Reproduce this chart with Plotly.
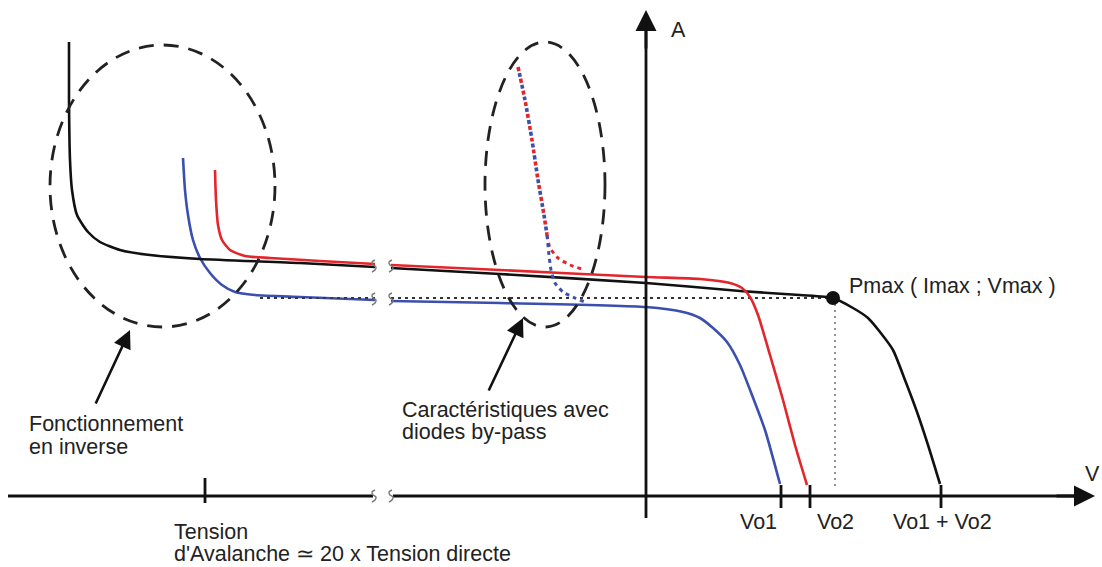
import plotly.graph_objects as go

# Data space: origin at the crossing of the V and A axes, 1 unit ~ 1 reference pixel
# ---------------- curves ----------------
black_left_x = [-577, -577, -576, -574, -569, -558, -546, -526, -496, -446, -346, -271]
black_left_y = [454, 396, 336, 306, 281, 264, 254, 246, 241, 237, 233, 229]
black_right_x = [-255, -146, 0, 94, 154, 187, 207, 222, 234, 247, 259, 271, 282, 294]
black_right_y = [228, 222, 213, 205, 201, 198, 188, 178, 164, 146, 116, 84, 51, 12]

red_left_x = [-431, -430, -428, -424, -416, -401, -376, -326, -271]
red_left_y = [326, 296, 271, 256, 246, 240, 238, 235, 232]
red_right_x = [-255, -146, 0, 54, 84, 96, 104, 112, 124, 137, 149, 161]
red_right_y = [231, 226, 219, 217, 213, 208, 199, 181, 141, 96, 51, 11]

blue_left_x = [-463, -461, -458, -453, -446, -436, -424, -411, -391, -346, -271]
blue_left_y = [338, 306, 281, 256, 238, 223, 211, 204, 201, 199, 196]
blue_right_x = [-255, -146, 0, 37, 54, 67, 81, 94, 106, 119, 134]
blue_right_y = [195, 193, 189, 184, 178, 168, 154, 131, 101, 66, 12]

# by-pass diode characteristics (dotted)
bypass_common_x = [-128, -121, -114, -108, -102, -99]
bypass_common_y = [429, 396, 356, 316, 281, 261]
bypass_red_x = [-99, -96, -88, -76, -61]
bypass_red_y = [261, 248, 238, 231, 226]
bypass_blue_x = [-99, -97, -95, -91, -83, -71, -61]
bypass_blue_y = [261, 241, 226, 213, 204, 198, 194]

# Pmax
pmax_x = [187]
pmax_y = [198]
imax_line_x = [[-386, -271], [-255, 187]]
vmax_line_y = [198, 6]

# axes
haxis_segments = [[-638, -273], [-253, 440]]
haxis_tip = 449
vaxis_bottom = -22
vaxis_tip = 486
break_x = [-272, -255]
break_y = [230, 197, 0]

tick_x = [-441, 135, 164, 295]
tick_y0 = [-7, -12, -12, -12]
tick_y1 = [18, 11, 11, 11]
tick_labels = ["Vo1", "Vo2", "Vo1 + Vo2"]
tick_label_x = [112, 189, 296]
tick_label_y = -26

# dashed ellipses (x0, x1, y0, y1)
ellipse_boxes = [(-596, -371, 169, 451), (-161, -41, 169, 454)]

# pointer arrows (tail -> head)
pointer_tails = [(-551, 91), (-158, 104)]
pointer_heads = [(-516, 166), (-123, 178)]

texts = [
    ("Fonctionnement", -619, 72),
    ("en inverse", -619, 49),
    ("Caractéristiques avec", -246, 86),
    ("diodes by-pass", -246, 64),
    ("Tension", -474, -36),
    ("d'Avalanche \u2243 20 x Tension directe", -474, -58),
    ("Pmax ( Imax ; Vmax )", 201, 210),
]

RED = "#e3262b"
BLUE = "#3b4fae"
BLACK = "#111111"
FONT = "Liberation Sans, Arial, sans-serif"
FSIZE = 21.5

fig = go.Figure()


def line(x, y, color, width=2.6, dash="solid", shape="spline"):
    fig.add_trace(go.Scatter(x=x, y=y, mode="lines",
                             line=dict(color=color, width=width, dash=dash, shape=shape,
                                       smoothing=0.6),
                             hoverinfo="skip", showlegend=False))


# dotted Imax / Vmax guides
for seg in imax_line_x:
    line(seg, [pmax_y[0], pmax_y[0]], "#333333", width=1.8, dash="3px,4px", shape="linear")
line([pmax_x[0] + 2, pmax_x[0] + 2], vmax_line_y, "#888888", width=1.8, dash="2px,4px", shape="linear")

# curves
line(blue_left_x, blue_left_y, BLUE)
line(blue_right_x, blue_right_y, BLUE)
line(black_left_x, black_left_y, BLACK)
line(black_right_x, black_right_y, BLACK)
line(red_left_x, red_left_y, RED)
line(red_right_x, red_right_y, RED)

# dotted black overlay on the blue plateau left of break
line(imax_line_x[0], [pmax_y[0], pmax_y[0]], "#333333", width=1.6, dash="3px,4px", shape="linear")

# by-pass dotted: red and blue squares interleaved
line(bypass_common_x, bypass_common_y, RED, width=3.6, dash="4px,8px")
line(bypass_common_x, bypass_common_y, BLUE, width=3.6, dash="0px,6px,4px,2px")
line(bypass_red_x, bypass_red_y, RED, width=3, dash="4px,4px")
line(bypass_blue_x, bypass_blue_y, BLUE, width=3, dash="4px,4px")

# axes
for seg in haxis_segments:
    line(seg, [0, 0], BLACK, width=2.8, shape="linear")
line([0, 0], [vaxis_bottom, vaxis_tip - 20], BLACK, width=2.8, shape="linear")

# ticks
for tx, a, b in zip(tick_x, tick_y0, tick_y1):
    line([tx, tx], [a, b], BLACK, width=2.8, shape="linear")

# break squiggles
sq_dx = [-2, 1, 2, -1, -2, 1]
sq_dy = [-6, -4, -1, 1, 4, 6]
for bx in break_x:
    for by in break_y:
        fig.add_trace(go.Scatter(x=[bx + d for d in sq_dx], y=[by + d for d in sq_dy], mode="lines",
                                 line=dict(color="#777777", width=1.4, shape="spline"),
                                 hoverinfo="skip", showlegend=False))

# Pmax marker
fig.add_trace(go.Scatter(x=pmax_x, y=pmax_y, mode="markers",
                         marker=dict(color=BLACK, size=14), hoverinfo="skip", showlegend=False))

# ellipses
shapes = []
for x0, x1, y0, y1 in ellipse_boxes:
    shapes.append(dict(type="circle", xref="x", yref="y", x0=x0, x1=x1, y0=y0, y1=y1,
                       line=dict(color="#222222", width=2.8, dash="15px,10px")))

annotations = []
# axis arrowheads
annotations.append(dict(x=0, y=vaxis_tip, ax=0, ay=vaxis_tip - 40, xref="x", yref="y", axref="x", ayref="y",
                        text="", showarrow=True, arrowhead=2, arrowsize=1.5, arrowwidth=2.8,
                        arrowcolor=BLACK, standoff=0))
annotations.append(dict(x=haxis_tip, y=0, ax=haxis_tip - 40, ay=0, xref="x", yref="y", axref="x", ayref="y",
                        text="", showarrow=True, arrowhead=2, arrowsize=1.5, arrowwidth=2.8,
                        arrowcolor=BLACK, standoff=0))
# pointer arrows
for (tx, ty), (hx, hy) in zip(pointer_tails, pointer_heads):
    annotations.append(dict(x=hx, y=hy, ax=tx, ay=ty, xref="x", yref="y", axref="x", ayref="y",
                            text="", showarrow=True, arrowhead=2, arrowsize=1.4, arrowwidth=2.6,
                            arrowcolor=BLACK, standoff=0))

# text
for t, x, y in texts:
    annotations.append(dict(x=x, y=y, text=t, showarrow=False, xref="x", yref="y",
                            xanchor="left", yanchor="middle",
                            font=dict(family=FONT, size=FSIZE, color="#222222")))
for t, x in zip(tick_labels, tick_label_x):
    annotations.append(dict(x=x, y=tick_label_y, text=t, showarrow=False, xref="x", yref="y",
                            xanchor="center", yanchor="middle",
                            font=dict(family=FONT, size=FSIZE, color="#222222")))
annotations.append(dict(x=32, y=466, text="A", showarrow=False, xref="x", yref="y",
                        font=dict(family=FONT, size=FSIZE, color="#222222")))
annotations.append(dict(x=446, y=22, text="V", showarrow=False, xref="x", yref="y",
                        font=dict(family=FONT, size=FSIZE, color="#222222")))

fig.update_layout(
    width=1102, height=567,
    margin=dict(l=0, r=0, t=0, b=0),
    paper_bgcolor="white", plot_bgcolor="white",
    xaxis=dict(range=[-646, 456], visible=False, fixedrange=True),
    yaxis=dict(range=[-71, 496], visible=False, fixedrange=True),
    shapes=shapes, annotations=annotations, showlegend=False,
)

fig.write_html("out.html", config={"displayModeBar": False})
